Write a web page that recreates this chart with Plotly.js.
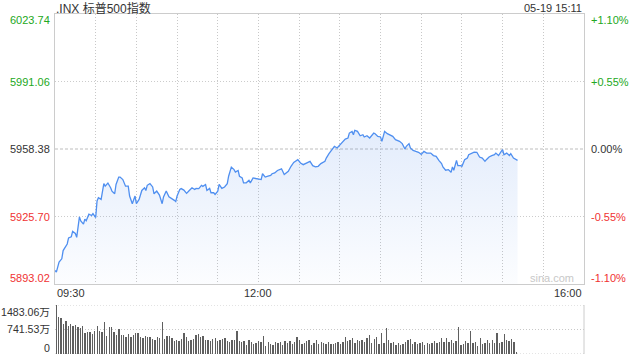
<!DOCTYPE html>
<html>
<head>
<meta charset="utf-8">
<script src="https://cdn.plot.ly/plotly-3.0.1.min.js"></script>
<style>html,body{margin:0;padding:0;background:#fff;}#chart{width:640px;height:360px;}</style>
</head>
<body>
<div id="chart"></div>
<script>
const DAY = '2025-05-19';
const chartTitle = '.INX 标普500指数';
const stampText = '05-19 15:11';

const times = ['09:30','09:31','09:33','09:35','09:36','09:39','09:40','09:42','09:43','09:45','09:46','09:48','09:49','09:51','09:52','09:53','09:55','09:57','09:58',
'10:00','10:01','10:02','10:04','10:06','10:07','10:09','10:11','10:12','10:14','10:15','10:17','10:18','10:20','10:22','10:24','10:25','10:27','10:28','10:29',
'10:30','10:32','10:34','10:36','10:37','10:38','10:40','10:42','10:43','10:45','10:47','10:49','10:50','10:52','10:54','10:56','10:58','10:59',
'11:00','11:02','11:03','11:05','11:07','11:09','11:11','11:13','11:14','11:16','11:18','11:19','11:21','11:22','11:24','11:25','11:27','11:28',
'11:30','11:31','11:33','11:35','11:37','11:38','11:40','11:42','11:43','11:45','11:46','11:48','11:49','11:51','11:53','11:54','11:56','11:58',
'12:00','12:02','12:03','12:05','12:07','12:09','12:10','12:12','12:14','12:16','12:17','12:19','12:22','12:24','12:26','12:29',
'12:31','12:33','12:35','12:37','12:38','12:40','12:42','12:44','12:46','12:49','12:50','12:52','12:54','12:56','12:58','12:59',
'13:01','13:03','13:04','13:06','13:07','13:09','13:10','13:11','13:13','13:15','13:17','13:18','13:20','13:22','13:23','13:25','13:26','13:28',
'13:30','13:31','13:32','13:33','13:35','13:37','13:39','13:41','13:43','13:44','13:46','13:48','13:49','13:51','13:52','13:54','13:56','13:58',
'14:00','14:02','14:04','14:07','14:09','14:11','14:13','14:15','14:16','14:18','14:20','14:22','14:23','14:24','14:26','14:27','14:29',
'14:30','14:32','14:34','14:35','14:37','14:39','14:41','14:43','14:45','14:47','14:48','14:50','14:52','14:54','14:55','14:57','14:59',
'15:00','15:01','15:03','15:05','15:06','15:08','15:10','15:11'];

const prices = [5899.6,5898.8,5903.6,5905.2,5909.2,5912.4,5915.3,5915.9,5918.5,5917.5,5915.6,5925.5,5923.6,5922.0,5924.4,5923.6,5926.8,5926.2,5927.1,
5925.2,5933.2,5934.8,5934.0,5941.6,5940.4,5941.9,5939.6,5938.0,5936.7,5941.2,5944.8,5944.8,5943.6,5940.4,5940.4,5935.6,5931.9,5934.0,5935.6,
5931.9,5934.0,5938.3,5939.6,5938.3,5940.8,5941.6,5940.0,5936.7,5938.0,5936.1,5931.9,5935.2,5938.0,5935.2,5934.5,5933.5,5932.9,
5935.6,5938.8,5939.2,5938.5,5936.9,5938.3,5939.6,5938.8,5939.3,5939.2,5940.8,5940.3,5941.2,5938.3,5939.3,5937.2,5937.2,5936.4,
5938.0,5941.2,5939.3,5940.0,5941.6,5945.2,5949.6,5948.4,5947.2,5948.0,5945.2,5944.4,5942.0,5942.0,5943.2,5942.0,5944.4,5944.1,
5943.9,5943.6,5946.4,5944.8,5945.2,5945.6,5946.4,5946.8,5948.0,5948.4,5948.8,5946.0,5947.6,5950.0,5951.9,5953.2,
5951.6,5950.8,5951.3,5951.9,5952.4,5950.3,5949.7,5950.0,5951.3,5952.4,5954.0,5956.1,5958.1,5959.7,5958.9,5959.7,
5961.0,5962.6,5963.2,5963.7,5966.1,5966.9,5965.3,5967.4,5966.9,5964.8,5965.3,5964.2,5964.8,5963.7,5964.5,5966.1,5965.8,5964.5,
5964.2,5962.1,5964.5,5966.9,5965.8,5965.3,5964.5,5962.9,5962.6,5962.1,5961.0,5958.4,5959.7,5961.0,5958.9,5957.7,5957.2,5956.8,
5955.8,5957.2,5956.4,5956.4,5955.2,5954.8,5952.9,5951.3,5949.7,5948.1,5948.4,5947.1,5949.7,5948.1,5952.9,5950.3,5950.3,
5950.0,5953.2,5954.0,5955.6,5956.4,5956.9,5956.8,5954.5,5954.0,5952.4,5953.2,5954.5,5955.2,5955.6,5956.4,5955.2,5957.2,
5958.1,5955.6,5956.4,5955.2,5956.1,5954.0,5953.2,5952.9];

// volume in 万, bars spread evenly from 09:30 to 15:11
const volume = [1483,1132,1100,912,1000,850,912,850,880,810,780,850,630,680,660,610,710,850,710,680,980,530,810,810,680,580,750,580,580,510,
610,510,580,630,650,510,480,550,510,510,450,410,510,480,980,450,550,530,480,380,430,380,450,630,510,380,410,450,580,610,
510,530,410,410,380,450,480,380,410,450,480,380,350,410,430,710,380,350,380,280,430,350,310,330,380,350,550,230,350,310,
280,350,330,350,280,380,330,380,310,350,510,430,310,330,380,410,280,330,410,310,350,330,310,350,310,310,330,350,310,350,
510,380,410,480,330,410,380,430,350,480,580,330,450,510,310,630,330,780,430,330,350,280,330,280,310,350,410,450,310,350,
310,330,350,280,330,310,330,380,330,350,480,350,480,350,410,330,380,810,280,310,380,330,710,330,350,250,480,310,330,410,
330,430,330,630,330,350,610,430,380,450,350,50];
const volStartTime = '09:30';
const volEndTime = '15:11';

const priceTicks = [6023.74, 5991.06, 5958.38, 5925.70, 5893.02];
const priceTickColors = ['#22a822', '#22a822', '#333333', '#f03232', '#f03232'];
const pctTicks = ['+1.10%', '+0.55%', '0.00%', '-0.55%', '-1.10%'];
const volTicks = [1483.06, 741.53, 0];
const volTickText = ['1483.06万', '741.53万', '0'];
const xLabels = ['09:30', '12:00', '16:00'];
const gridTimes = ['10:00','10:30','11:00','11:30','12:00','12:30','13:00','13:30','14:00','14:30','15:00','15:30'];

(function () {
const ts = t => DAY + ' ' + t;
const toMs = t => { const [h, m] = t.split(':').map(Number); return Date.UTC(2025, 4, 19, h, m); };

const vStart = toMs(volStartTime), vEnd = toMs(volEndTime);
const vStep = (vEnd - vStart) / volume.length;
const volX = volume.map((v, i) => vStart + (i + 0.5) * vStep);

const font = 'Liberation Sans, Arial, Noto Sans CJK SC, sans-serif';
const H = 360, mTop = 14, mBot = 6;
const plotH = H - mTop - mBot;
const py = px => (H - mBot - px) / plotH; // pixel y -> paper

const lineTrace = {
  x: times.map(ts), y: prices, type: 'scatter', mode: 'lines',
  line: {color: '#4f8ff0', width: 1.3},
  fill: 'tozeroy',
  fillgradient: {type: 'vertical', start: priceTicks[4], stop: 5968,
    colorscale: [[0, 'rgba(90,145,235,0.02)'], [1, 'rgba(90,145,235,0.17)']]},
  hoverinfo: 'skip', xaxis: 'x', yaxis: 'y'
};
const volTrace = {
  x: volX, y: volume, type: 'bar', width: vStep * 0.55,
  marker: {color: '#5f5f5f', line: {width: 0}},
  hoverinfo: 'skip', xaxis: 'x2', yaxis: 'y2'
};

const xRange = [ts('09:30'), ts('16:00')];
const ann = [];
const aFont = (c, s) => ({family: font, size: s || 11, color: c});

priceTicks.forEach((v, i) => {
  const sh = i === 0 ? -6 : (i === priceTicks.length - 1 ? 6 : 0);
  ann.push({xref: 'paper', yref: 'y', x: 0, y: v, xanchor: 'right', yanchor: 'middle', xshift: -3, yshift: sh,
    text: v.toFixed(2), showarrow: false, font: aFont(priceTickColors[i])});
  ann.push({xref: 'paper', yref: 'y', x: 1, y: v, xanchor: 'left', yanchor: 'middle', xshift: 5, yshift: sh,
    text: pctTicks[i], showarrow: false, font: aFont(priceTickColors[i])});
});
volTicks.forEach((v, i) => {
  const sh = i === 0 ? -7 : (i === volTicks.length - 1 ? 6 : 1);
  ann.push({xref: 'paper', yref: 'y2', x: 0, y: v, xanchor: 'right', yanchor: 'middle', xshift: -3, yshift: sh,
    text: volTickText[i], showarrow: false, font: aFont('#333333', 10.6)});
});
const xAnch = ['left', 'center', 'right'];
xLabels.forEach((t, i) => {
  ann.push({xref: 'x', yref: 'paper', x: ts(t), y: py(293), xanchor: xAnch[i], yanchor: 'middle',
    text: t, showarrow: false, font: aFont('#333333')});
});
ann.push({xref: 'paper', yref: 'paper', x: 0, y: py(8), xanchor: 'left', yanchor: 'middle', xshift: -1,
  text: chartTitle, showarrow: false, font: {family: 'Liberation Sans, Noto Sans CJK SC, sans-serif', size: 12, color: '#333333'}});
ann.push({xref: 'paper', yref: 'paper', x: 1, y: py(8), xanchor: 'right', yanchor: 'middle',
  text: stampText, showarrow: false, font: aFont('#333333')});
ann.push({xref: 'paper', yref: 'paper', x: 0.9395, y: py(278), xanchor: 'center', yanchor: 'middle',
  text: 'sina.com', showarrow: false, font: aFont('#c8c8c8', 11)});

const shapes = [];
priceTicks.slice(1, 4).forEach((v, i) => {
  shapes.push({type: 'line', xref: 'paper', yref: 'y', x0: 0, x1: 1, y0: v, y1: v,
    line: {color: i === 1 ? '#bdbdbd' : '#cccccc', width: 1, dash: i === 1 ? '3px,2px' : '1px,2px'}, layer: 'below'});
});
volTicks.forEach(v => {
  shapes.push({type: 'line', xref: 'paper', yref: 'y2', x0: 0, x1: 1, y0: v, y1: v,
    line: {color: '#c8c8c8', width: 1, dash: '1px,2px'}, layer: 'below'});
});
shapes.push({type: 'line', xref: 'paper', yref: 'y2', x0: 1, x1: 1, y0: volTicks[2], y1: volTicks[0],
  line: {color: '#cccccc', width: 1}});

const layout = {
  width: 640, height: 360,
  margin: {l: 55, r: 56, t: mTop, b: mBot, pad: 0},
  paper_bgcolor: '#ffffff', plot_bgcolor: 'rgba(0,0,0,0)',
  showlegend: false, bargap: 0,
  font: {family: font, size: 11, color: '#333'},
  xaxis: {type: 'date', range: xRange, domain: [0, 1], anchor: 'y',
    tickvals: gridTimes.map(ts), showticklabels: false, ticks: '',
    showgrid: true, gridcolor: '#c8c8c8', griddash: '1px,2px', gridwidth: 1,
    showline: true, mirror: true, linecolor: '#cccccc', linewidth: 1, zeroline: false, fixedrange: true},
  yaxis: {domain: [py(284), 1], range: [priceTicks[4], priceTicks[0]], anchor: 'x',
    showgrid: false, showticklabels: false, ticks: '', zeroline: false,
    showline: true, mirror: true, linecolor: '#cccccc', linewidth: 1, fixedrange: true},
  xaxis2: {type: 'date', range: xRange, domain: [0, 1], anchor: 'y2', matches: 'x',
    showgrid: false, showticklabels: false, ticks: '', showline: false, zeroline: false, fixedrange: true},
  yaxis2: {domain: [0, py(305)], range: [0, volTicks[0]], anchor: 'x2',
    showgrid: false, showticklabels: false, ticks: '', showline: false, zeroline: false, fixedrange: true},
  annotations: ann,
  shapes: shapes
};

Plotly.newPlot('chart', [lineTrace, volTrace], layout, {displayModeBar: false, staticPlot: true});
})();
</script>
</body>
</html>
